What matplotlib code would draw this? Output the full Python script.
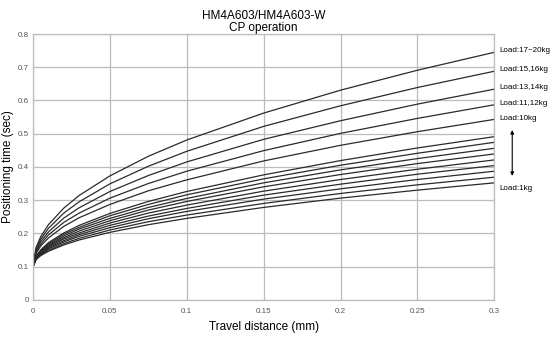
import numpy as np
import matplotlib
matplotlib.use('Agg')
import matplotlib.pyplot as plt

plt.rcParams['font.family'] = ['Liberation Sans', 'DejaVu Sans']

# 读取的曲线数据 (travel distance mm -> positioning time sec)
dist = [0, 0.002, 0.005, 0.01, 0.02, 0.03, 0.05, 0.075, 0.1, 0.15, 0.2, 0.25, 0.3]

t_17_20 = [0.1, 0.158, 0.190, 0.226, 0.276, 0.314, 0.373, 0.432, 0.481, 0.562, 0.631, 0.691, 0.745]
t_15_16 = [0.1, 0.153, 0.182, 0.215, 0.261, 0.295, 0.349, 0.402, 0.447, 0.522, 0.584, 0.639, 0.688]
t_13_14 = [0.1, 0.148, 0.175, 0.204, 0.246, 0.277, 0.326, 0.374, 0.415, 0.483, 0.539, 0.589, 0.634]
t_11_12 = [0.1, 0.144, 0.168, 0.195, 0.233, 0.261, 0.306, 0.350, 0.387, 0.449, 0.501, 0.546, 0.587]
t_10 = [0.1, 0.140, 0.162, 0.186, 0.221, 0.247, 0.287, 0.328, 0.361, 0.418, 0.465, 0.506, 0.543]
t_9 = [0.1, 0.132, 0.150, 0.172, 0.201, 0.224, 0.260, 0.296, 0.326, 0.376, 0.419, 0.457, 0.491]
t_8 = [0.1, 0.131, 0.148, 0.168, 0.197, 0.218, 0.253, 0.287, 0.316, 0.364, 0.405, 0.441, 0.474]
t_7 = [0.1, 0.129, 0.146, 0.165, 0.192, 0.213, 0.245, 0.278, 0.305, 0.352, 0.391, 0.425, 0.456]
t_6 = [0.1, 0.128, 0.144, 0.162, 0.187, 0.207, 0.238, 0.270, 0.296, 0.340, 0.377, 0.410, 0.439]
t_5 = [0.1, 0.126, 0.141, 0.159, 0.183, 0.201, 0.231, 0.261, 0.285, 0.327, 0.362, 0.393, 0.421]
t_4 = [0.1, 0.125, 0.139, 0.156, 0.178, 0.196, 0.224, 0.252, 0.275, 0.315, 0.348, 0.378, 0.404]
t_3 = [0.1, 0.123, 0.137, 0.153, 0.174, 0.191, 0.217, 0.244, 0.266, 0.303, 0.334, 0.362, 0.387]
t_2 = [0.1, 0.122, 0.135, 0.149, 0.169, 0.185, 0.210, 0.235, 0.255, 0.290, 0.320, 0.346, 0.369]
t_1 = [0.1, 0.121, 0.133, 0.146, 0.165, 0.180, 0.203, 0.226, 0.245, 0.278, 0.306, 0.330, 0.352]

curves = [t_17_20, t_15_16, t_13_14, t_11_12, t_10, t_9, t_8, t_7, t_6, t_5, t_4, t_3, t_2, t_1]

# 右侧标注
labels = ['Load:17~20kg', 'Load:15,16kg', 'Load:13,14kg', 'Load:11,12kg', 'Load:10kg']
label_curves = [t_17_20, t_15_16, t_13_14, t_11_12, t_10]

x_ticks = [0, 0.05, 0.1, 0.15, 0.2, 0.25, 0.3]
x_tick_labels = ['0', '0.05', '0.1', '0.15', '0.2', '0.25', '0.3']
y_ticks = [0, 0.1, 0.2, 0.3, 0.4, 0.5, 0.6, 0.7, 0.8]
y_tick_labels = ['0', '0.1', '0.2', '0.3', '0.4', '0.5', '0.6', '0.7', '0.8']

fig = plt.figure(figsize=(5.51, 3.51), dpi=100)
ax = fig.add_axes([0.060, 0.146, 0.837, 0.757])

for c in curves:
    ax.plot(dist, c, color='#2a2a2a', lw=0.9)

ax.set_xlim(0, 0.3)
ax.set_ylim(0, 0.8)
ax.set_xticks(x_ticks)
ax.set_xticklabels(x_tick_labels)
ax.set_yticks(y_ticks)
ax.set_yticklabels(y_tick_labels)
ax.tick_params(axis='x', length=0, labelsize=5.8, labelcolor='#555555', pad=6)
ax.tick_params(axis='y', length=0, labelsize=5.8, labelcolor='#555555', pad=3)
ax.grid(True, color='#bcbcbc', lw=0.9)
ax.set_axisbelow(True)
for s in ax.spines.values():
    s.set_color('#bcbcbc')
    s.set_linewidth(0.9)

ax.set_xlabel('Travel distance (mm)', fontsize=8.5, labelpad=4)
ax.set_ylabel('Positioning time (sec)', fontsize=8.5)
ax.yaxis.set_label_coords(-0.041, 0.5)
ax.set_title('HM4A603/HM4A603-W\nCP operation', fontsize=8.5, linespacing=1.0, pad=1)

for lab, c in zip(labels, label_curves):
    ax.annotate(lab, xy=(0.3, c[-1]), xytext=(4, 1), textcoords='offset points',
                fontsize=5.8, va='center', ha='left', annotation_clip=False)
ax.annotate('Load:1kg', xy=(0.3, t_1[-1]), xytext=(4, -4), textcoords='offset points',
            fontsize=5.8, va='center', ha='left', annotation_clip=False)

# 双向箭头 (右侧)
ax.annotate('', xy=(1.039, t_10[-1] - 0.032), xytext=(1.039, t_1[-1] + 0.021),
            xycoords=('axes fraction', 'data'), textcoords=('axes fraction', 'data'),
            annotation_clip=False,
            arrowprops=dict(arrowstyle='<|-|>', color='black', lw=0.8,
                            mutation_scale=5, shrinkA=0, shrinkB=0))

plt.savefig('out.png', dpi=100)
